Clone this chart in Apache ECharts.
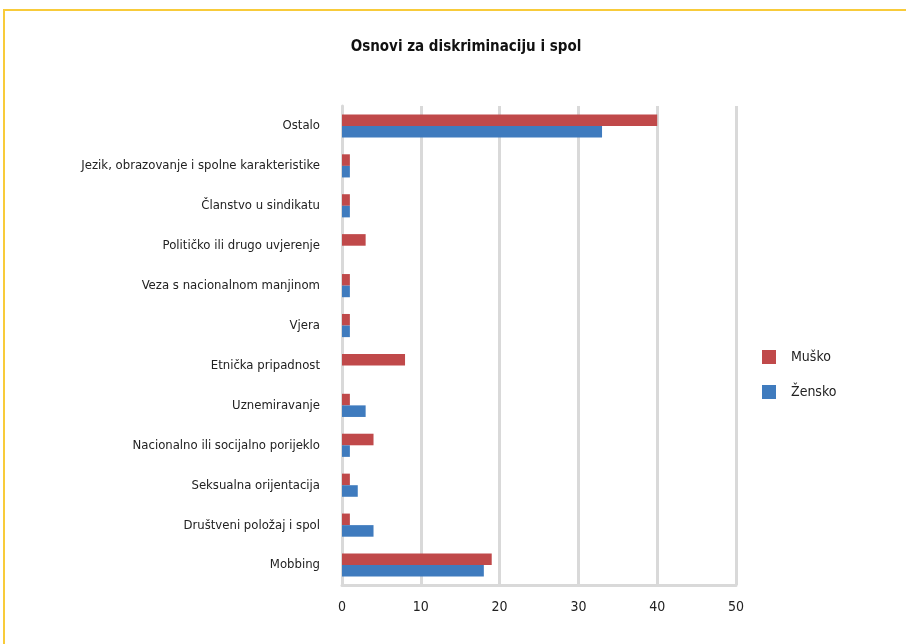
<!DOCTYPE html>
<html>
<head>
<meta charset="utf-8">
<script src="https://cdn.jsdelivr.net/npm/echarts@6/dist/echarts.min.js"></script>
<style>
  html, body { margin: 0; padding: 0; background: #fff; }
  #chart { width: 906px; height: 644px; }
</style>
</head>
<body>
<div id="chart"></div>
<script>
// categories top to bottom
const categories = [
  'Ostalo',
  'Jezik, obrazovanje i spolne karakteristike',
  'Članstvo u sindikatu',
  'Političko ili drugo uvjerenje',
  'Veza s nacionalnom manjinom',
  'Vjera',
  'Etnička pripadnost',
  'Uznemiravanje',
  'Nacionalno ili socijalno porijeklo',
  'Seksualna orijentacija',
  'Društveni položaj i spol',
  'Mobbing'
];
const musko  = [40, 1, 1, 3, 1, 1, 8, 1, 4, 1, 1, 19];
const zensko = [33, 1, 1, 0, 1, 1, 0, 3, 1, 2, 4, 18];

const colors = {
  red: '#C0494A',
  blue: '#3F7BBE',
  grid: '#D9D9D9',
  text: '#222222',
  frame: '#F8CB3A'
};
const font = "'Liberation Sans Narrow', 'DejaVu Sans Condensed', 'Noto Sans', sans-serif";

const chart = echarts.init(document.getElementById('chart'));
chart.setOption({
  animation: false,
  backgroundColor: '#fff',
  textStyle: { fontFamily: font, color: colors.text },
  graphic: [{
    type: 'rect',
    shape: { x: 4, y: 10, width: 1000, height: 1000 },
    style: { fill: 'none', stroke: colors.frame, lineWidth: 2 }
  }],
  title: {
    text: 'Osnovi za diskriminaciju i spol',
    left: 461, top: 35, textAlign: 'center',
    textStyle: { fontFamily: font, fontSize: 15, fontWeight: 'bold', color: '#111' }
  },
  legend: {
    orient: 'vertical',
    left: 762, top: 350, padding: 0,
    itemWidth: 14, itemHeight: 14, itemGap: 21,
    icon: 'rect',
    data: ['Muško', 'Žensko'],
    textStyle: { fontFamily: font, fontSize: 14, color: colors.text, padding: [0, 0, 0, 10] }
  },
  grid: { left: 342, right: 170, top: 106, bottom: 59 },
  xAxis: {
    type: 'value', min: 0, max: 50, interval: 10,
    axisLine: { show: true, lineStyle: { color: colors.grid, width: 3 } },
    axisTick: { show: false },
    splitLine: { lineStyle: { color: colors.grid, width: 3 } },
    axisLabel: { fontFamily: font, fontSize: 14, color: colors.text, margin: 15 }
  },
  yAxis: {
    type: 'category', inverse: true, data: categories,
    axisLine: { lineStyle: { color: colors.grid, width: 3 } },
    axisTick: { show: false },
    axisLabel: { fontFamily: font, fontSize: 13, color: colors.text, margin: 22 }
  },
  series: [
    { name: 'Muško', type: 'bar', data: musko, barGap: 0, barCategoryGap: '42%', itemStyle: { color: colors.red } },
    { name: 'Žensko', type: 'bar', data: zensko, barGap: 0, barCategoryGap: '42%', itemStyle: { color: colors.blue } }
  ]
});
</script>
</body>
</html>
